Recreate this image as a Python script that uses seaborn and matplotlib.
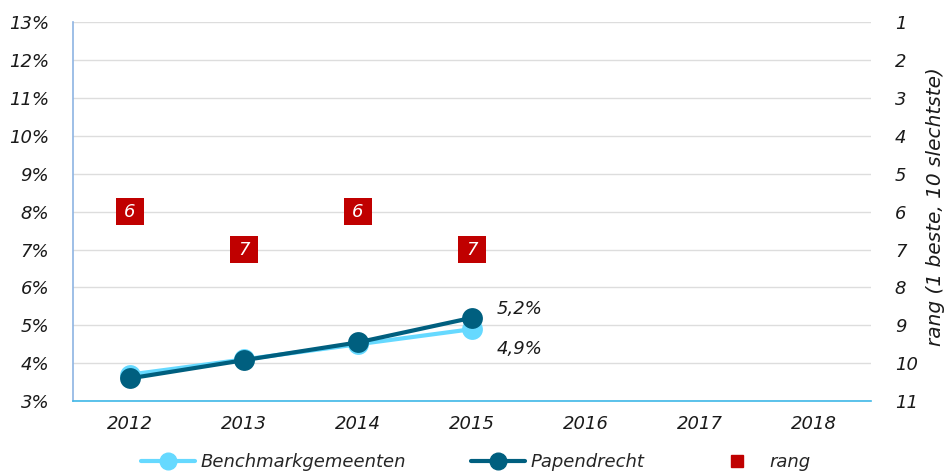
import matplotlib
matplotlib.use('Agg')
import matplotlib.pyplot as plt
import seaborn as sns
import pandas as pd
from matplotlib.lines import Line2D

years = [2012, 2013, 2014, 2015, 2016, 2017, 2018]
jaren_data = [2012, 2013, 2014, 2015]
benchmark = [3.7, 4.1, 4.5, 4.9]
papendrecht = [3.6, 4.08, 4.55, 5.2]
rang = [6, 7, 6, 7]

licht = '#66D9FF'
donker = '#005F7F'
rood = '#C00000'
fs = 13

sns.set_theme(style='white')
plt.rcParams['font.family'] = ['DejaVu Sans']
plt.rcParams['font.style'] = 'italic'

df = pd.DataFrame({
    'jaar': jaren_data * 2,
    'waarde': benchmark + papendrecht,
    'reeks': ['Benchmarkgemeenten'] * 4 + ['Papendrecht'] * 4,
})

fig = plt.figure(figsize=(9.46, 4.73), dpi=100)
ax = fig.add_axes([0.077, 0.152, 0.844, 0.801])

sns.lineplot(data=df, x='jaar', y='waarde', hue='reeks',
             palette={'Benchmarkgemeenten': licht, 'Papendrecht': donker},
             marker='o', markersize=15, markeredgewidth=0, linewidth=3,
             legend=False, ax=ax)

ax.set_xlim(years[0] - 0.5, years[-1] + 0.5)
ax.set_ylim(3, 13)
ax.set_xticks(years)
ax.set_xticklabels([str(j) for j in years], fontsize=fs, style='italic')
ax.set_yticks(range(3, 14))
ax.set_yticklabels([f'{v}%' for v in range(3, 14)], fontsize=fs, style='italic')
ax.set_xlabel('')
ax.set_ylabel('')
ax.grid(axis='y', color='#DDDDDD', linewidth=1)
ax.set_axisbelow(True)
ax.tick_params(axis='both', length=0, colors='#1A1A1A')
ax.tick_params(axis='y', pad=17)
ax.tick_params(axis='x', pad=10)
for s in ['top', 'right']:
    ax.spines[s].set_visible(False)
ax.spines['left'].set_color('#8EB4E3')
ax.spines['bottom'].set_color('#3FB8E8')
ax.spines['left'].set_linewidth(1.2)
ax.spines['bottom'].set_linewidth(1.2)

# labels bij laatste punt
ax.annotate('5,2%', (jaren_data[-1], papendrecht[-1]), xytext=(18, 6),
            textcoords='offset points', fontsize=fs, style='italic',
            color='#1A1A1A', va='center')
ax.annotate('4,9%', (jaren_data[-1], benchmark[-1]), xytext=(18, -14),
            textcoords='offset points', fontsize=fs, style='italic',
            color='#1A1A1A', va='center')

# rang as
ax2 = ax.twinx()
ax2.set_ylim(11, 1)
ax2.set_yticks(range(1, 12))
ax2.set_yticklabels([str(v) for v in range(1, 12)], fontsize=fs, style='italic')
ax2.tick_params(axis='y', length=0, pad=17, colors='#1A1A1A')
for s in ax2.spines.values():
    s.set_visible(False)
ax2.set_ylabel('rang (1 beste, 10 slechtste)', fontsize=14.5, style='italic',
               color='#1A1A1A')
ax2.yaxis.label.set_va('center')
ax2.yaxis.set_label_coords(1.080, 0.513)
ax2.grid(False)

sns.scatterplot(x=jaren_data, y=rang, marker='s', s=390, color=rood,
                edgecolor='none', ax=ax2, legend=False, zorder=3)
for j, r in zip(jaren_data, rang):
    ax2.text(j, r, str(r), color='white', fontsize=fs, style='italic',
             ha='center', va='center', zorder=4)

handles = [
    Line2D([0], [0], color=licht, lw=3, marker='o', markersize=12),
    Line2D([0], [0], color=donker, lw=3, marker='o', markersize=12),
    Line2D([0], [0], color=rood, lw=0, marker='s', markersize=8),
]
fig.legend(handles, ['Benchmarkgemeenten', 'Papendrecht', 'rang'],
           loc='center', bbox_to_anchor=(0.503, 0.023), ncol=3, frameon=False,
           fontsize=fs, columnspacing=3.6, handlelength=3, handletextpad=0.3)

fig.savefig('out.png', dpi=100)
